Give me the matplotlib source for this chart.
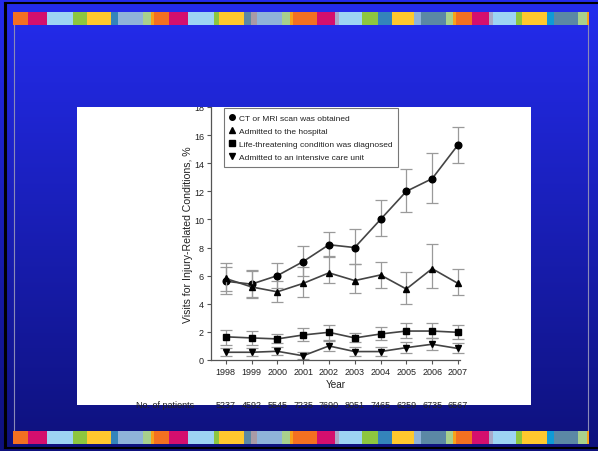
import numpy as np
import matplotlib
matplotlib.use('Agg')
import matplotlib.pyplot as plt
from matplotlib.patches import Rectangle
from matplotlib.lines import Line2D
from matplotlib.transforms import blended_transform_factory

plt.rcParams['font.family'] = ['Liberation Sans', 'DejaVu Sans']

# data
years = [1998, 1999, 2000, 2001, 2002, 2003, 2004, 2005, 2006, 2007]
patients = ['5237', '4592', '5545', '7235', '7690', '8051', '7465', '6259', '6735', '6567']

ct = [5.6, 5.4, 6.0, 7.0, 8.2, 8.0, 10.0, 12.0, 12.9, 15.3]
ct_lo = [4.7, 4.5, 5.1, 6.0, 7.3, 6.8, 8.8, 10.5, 11.2, 14.0]
ct_hi = [6.6, 6.3, 6.9, 8.1, 9.1, 9.3, 11.4, 13.6, 14.7, 16.6]

hosp = [5.8, 5.2, 4.85, 5.45, 6.2, 5.65, 6.05, 5.05, 6.5, 5.45]
hosp_lo = [4.9, 4.4, 4.1, 4.5, 5.5, 4.8, 5.1, 4.0, 5.1, 4.65]
hosp_hi = [6.9, 6.4, 5.6, 6.6, 7.4, 6.8, 7.0, 6.25, 8.25, 6.45]

life = [1.65, 1.57, 1.5, 1.78, 1.97, 1.57, 1.85, 2.06, 2.06, 1.97]
life_lo = [1.1, 1.1, 1.2, 1.35, 1.45, 1.25, 1.4, 1.6, 1.55, 1.5]
life_hi = [2.15, 2.05, 1.85, 2.25, 2.5, 1.9, 2.35, 2.65, 2.65, 2.5]

icu = [0.55, 0.55, 0.62, 0.3, 1.0, 0.6, 0.6, 0.88, 1.12, 0.82]
icu_lo = [0.3, 0.3, 0.35, 0.08, 0.66, 0.3, 0.28, 0.47, 0.7, 0.47]
icu_hi = [0.85, 0.85, 0.9, 0.55, 1.37, 0.9, 0.9, 1.26, 1.57, 1.19]

labels = ['CT or MRI scan was obtained', 'Admitted to the hospital',
          'Life-threatening condition was diagnosed', 'Admitted to an intensive care unit']

W, H = 598, 452
fig = plt.figure(figsize=(W / 100, H / 100), dpi=100)
fig.patch.set_facecolor('#0c0f70')

# slide background, pixel coordinates
bg = fig.add_axes([0, 0, 1, 1])
bg.set_xlim(0, W)
bg.set_ylim(H, 0)
bg.axis('off')

c_top = np.array([0x24, 0x2c, 0xef]) / 255
c_bot = np.array([0x0e, 0x11, 0x7c]) / 255
t = np.linspace(0, 1, 256)[:, None, None]
grad = c_top * (1 - t) + c_bot * t
bg.imshow(grad, extent=[0, W, H, 0], aspect='auto', origin='upper', zorder=0)

# black frame
bg.plot([4.5, 4.5], [4, 448], color='black', lw=2.2, zorder=1)
bg.plot([4.5, W], [4, 4], color='black', lw=1.5, zorder=1)
bg.plot([4.5, W], [448.5, 448.5], color='black', lw=1.5, zorder=1)
bg.plot([14, 14], [26, 432], color='#8a8ab8', lw=0.8, zorder=1)
bg.plot([588, 588], [26, 432], color='#8a8ab8', lw=0.8, zorder=1)

# coloured stripes
cuts = [13, 28.2, 47.3, 72.5, 87, 111.4, 117.5, 143, 150.6, 154.1, 169, 188, 213.6,
        218.9, 244.1, 251, 257.4, 282.2, 289.9, 292.9, 317.3, 334.9, 338.7, 361.6,
        377.6, 392.1, 413.8, 421.4, 445.5, 453.1, 456.1, 472.2, 489.3, 492.8, 515.6,
        521.7, 546.5, 553.8, 578.2, 586.6, 589]
cols = ['#f37021', '#d40f6e', '#9dd4f3', '#8dc63f', '#ffc82e', '#3484bb', '#8fb3d9',
        '#a8d08d', '#f7a21b', '#f37021', '#d40f6e', '#9dd4f3', '#8dc63f', '#ffc82e',
        '#5b88a5', '#a99aa6', '#8fb3d9', '#a8d08d', '#f7a21b', '#f37021', '#d40f6e',
        '#a9a9c8', '#9dd4f3', '#8dc63f', '#3484bb', '#ffc82e', '#8fb3d9', '#5b88a5',
        '#a8d08d', '#f7a21b', '#f37021', '#d40f6e', '#a9a9c8', '#9dd4f3', '#8dc63f',
        '#ffc82e', '#0f9ad6', '#5b88a5', '#a8d08d', '#f7a21b']
for y0 in (13, 432):
    for i in range(len(cols)):
        bg.add_patch(Rectangle((cuts[i], y0), cuts[i + 1] - cuts[i], 13,
                               facecolor=cols[i], edgecolor='none', zorder=2))

panel = Rectangle((77, 108), 454, 298, facecolor='white', edgecolor='none', zorder=3)
bg.add_patch(panel)

# chart
ax = fig.add_axes([211 / W, (H - 361) / H, (460 - 211) / W, (361 - 108) / H])
ax.patch.set_alpha(0)
ax.set_xlim(1997.43, 2007.08)
ax.set_ylim(0, 18)
for s in ['top', 'right']:
    ax.spines[s].set_visible(False)
for s in ['left', 'bottom']:
    ax.spines[s].set_color('#555555')
    ax.spines[s].set_linewidth(0.9)
ax.set_xticks(years)
ax.set_yticks(range(0, 19, 2))
ax.tick_params(labelsize=6.5, length=3, width=0.8, color='#555555', pad=2,
               labelcolor='#222222')
ax.set_xlabel('Year', fontsize=7.2, color='#222222', labelpad=2)
ax.set_ylabel('Visits for Injury-Related Conditions, %', fontsize=7.6,
              color='#222222', labelpad=1)

series = [(ct, ct_lo, ct_hi, 'o', 4.8), (hosp, hosp_lo, hosp_hi, '^', 5.0),
          (life, life_lo, life_hi, 's', 4.6), (icu, icu_lo, icu_hi, 'v', 5.0)]
handles = []
for (v, lo, hi, m, ms), lab in zip(series, labels):
    v = np.array(v)
    err = [v - np.array(lo), np.array(hi) - v]
    ax.errorbar(years, v, yerr=err, fmt='none', ecolor='#9a9a9a', elinewidth=0.9,
                capsize=4.5, capthick=0.9, clip_on=False)
    ax.plot(years, v, '-', color='#444444', lw=1.2, marker=m, ms=ms,
            mfc='black', mec='black', clip_on=False)
    handles.append(Line2D([], [], ls='None', marker=m, ms=ms - 0.8,
                          mfc='black', mec='black', label=lab))

leg = ax.legend(handles=handles, loc='upper left', bbox_to_anchor=(0.052, 0.996),
                borderaxespad=0, fontsize=6.0, frameon=True, fancybox=False,
                handlelength=0.6, handletextpad=0.5, labelspacing=0.62,
                borderpad=0.7)
leg.get_frame().set_edgecolor('#555555')
leg.get_frame().set_linewidth(0.8)
for tx in leg.get_texts():
    tx.set_color('#222222')

for tk in ax.yaxis.get_major_ticks():
    tk.label1.set_clip_path(panel)

# patient counts, cut off by the panel edge
tr = blended_transform_factory(ax.transData, bg.transData)
for yr, n in zip(years, patients):
    t_ = ax.text(yr, 401, n, transform=tr, ha='center', va='top', fontsize=6.5,
                 color='#222222')
    t_.set_clip_path(panel)
t_ = bg.text(194, 401, 'No. of patients', ha='right', va='top', fontsize=6.5,
             color='#222222', zorder=4)
t_.set_clip_path(panel)

fig.savefig('out.png', dpi=100, facecolor=fig.get_facecolor())
